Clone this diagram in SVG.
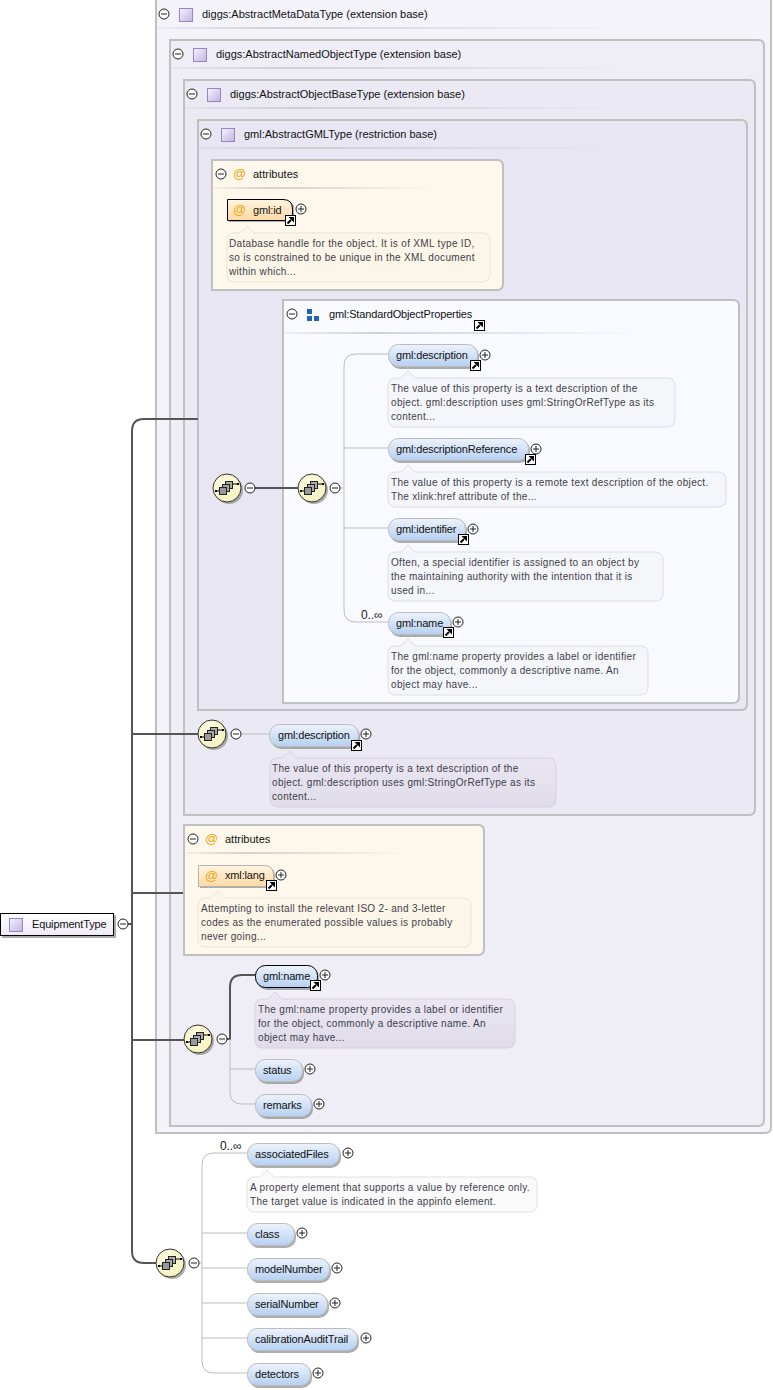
<svg xmlns="http://www.w3.org/2000/svg" width="773" height="1390" viewBox="0 0 773 1390">
<style>
text{font-family:"Liberation Sans",Arial,sans-serif;font-size:11px;fill:#111}
[id^=el-] text:not(.d),[id^=attr-] text:not(.d):not(.at),#group-sop text,#root-EquipmentType text{letter-spacing:-.15px}
text.d{font-size:10px;letter-spacing:.32px;fill:#3e3e4a}
text.o{font-size:12px;letter-spacing:.1px;fill:#222}
.fr{stroke:#c0c0c0;stroke-width:2}
.th{fill:none;stroke:#bdbdbd;stroke-width:1}
.dk{fill:none;stroke:#555;stroke-width:2}
.sh{fill:#8a8a8a;opacity:.7}
.el{fill:url(#gE);stroke:#bcbcbc;stroke-width:1}
.req{fill:url(#gE);stroke:#000;stroke-width:1}
text.at{font-size:13px;fill:#f5a30a}
.dS{fill:#f5f6f9;stroke:#dcdde2}
.dP{fill:url(#gD);stroke:#d5d2de}
.dA{fill:#fcf6e8;stroke:#e8e3d6}
.dW{fill:#fafafa;stroke:#e2e2e2}
</style>
<defs>
<linearGradient id="gE" x1="0" y1="0" x2="0" y2="1"><stop offset="0" stop-color="#edf3fc"/><stop offset="1" stop-color="#b6d0f1"/></linearGradient>
<linearGradient id="gD" x1="0" y1="0" x2="0" y2="1"><stop offset="0" stop-color="#ebe8f3"/><stop offset="1" stop-color="#e0dcea"/></linearGradient>
<linearGradient id="gA" x1="0" y1="0" x2="0" y2="1"><stop offset="0" stop-color="#fff5e2"/><stop offset="1" stop-color="#ffd9a3"/></linearGradient>
<linearGradient id="gT" x1="0" y1="0" x2="1" y2="1"><stop offset="0" stop-color="#f6f4fc"/><stop offset="1" stop-color="#bfb4de"/></linearGradient>
<linearGradient id="gR" x1="0" y1="0" x2="0" y2="1"><stop offset="0" stop-color="#ffffff"/><stop offset="1" stop-color="#eeeaf8"/></linearGradient>
<linearGradient id="gU" x1="0" y1="0" x2="1" y2="0"><stop offset="0" stop-color="#c8c8c8" stop-opacity=".2"/><stop offset=".25" stop-color="#c8c8c8" stop-opacity=".8"/><stop offset="1" stop-color="#c8c8c8" stop-opacity="0"/></linearGradient>
<radialGradient id="gS" cx=".4" cy=".35" r=".75"><stop offset="0" stop-color="#fffde6"/><stop offset="1" stop-color="#f5f0b8"/></radialGradient>
<symbol id="plus" overflow="visible"><circle r="5" fill="#fff" stroke="#222"/><path d="M-3 0H3M0-3V3" stroke="#222" fill="none"/></symbol>
<symbol id="minus" overflow="visible"><circle r="5" fill="#fff" stroke="#222"/><path d="M-3 0H3" stroke="#222" fill="none"/></symbol>
<symbol id="link" overflow="visible"><rect x=".5" y=".5" width="10" height="10" fill="#fff" stroke="#000"/><path d="M2.500 8.500L6 5" stroke="#000" stroke-width="2"/><path d="M3.500 2H9V7.500Z" fill="#000"/></symbol>
<symbol id="type" overflow="visible"><rect x=".5" y=".5" width="13" height="13" fill="url(#gT)" stroke="#9b82c6"/></symbol>
<symbol id="seq" overflow="visible">
<circle cx="2" cy="2" r="14" fill="#8a8a8a" opacity=".7"/>
<circle r="14" fill="url(#gS)" stroke="#333"/>
<path d="M-11 3H-7M6-4H11" stroke="#000"/>
<rect x="-1.500" y="-6.500" width="7" height="7" fill="#aaa" stroke="#222"/>
<rect x="-4.500" y="-3.500" width="7" height="7" fill="#aaa" stroke="#222"/>
<rect x="-7.500" y="-.5" width="7" height="7" fill="#999" stroke="#222"/>
<rect x="-12" y="2" width="2" height="2" fill="#000"/><rect x="10" y="-5" width="2" height="2" fill="#000"/>
</symbol>
</defs>
<rect width="773" height="1390" fill="#fff"/>

<g id="frame-metadata">
<path class="fr" fill="#f4f3fa" d="M156-4H771V1127Q771 1133 765 1133H156Z"/>
<rect x="157" y="27" width="470" height="2" fill="url(#gU)"/>
<use href="#minus" x="164" y="14"/><use href="#type" x="179" y="8"/>
<text x="202" y="18">diggs:AbstractMetaDataType (extension base)</text>
</g>
<g id="frame-named">
<path class="fr" fill="#efedf6" d="M170 40H758Q764 40 764 46V1120Q764 1126 758 1126H170Z"/>
<rect x="171" y="67" width="455" height="2" fill="url(#gU)"/>
<use href="#minus" x="178" y="54"/><use href="#type" x="193" y="48"/>
<text x="216" y="58">diggs:AbstractNamedObjectType (extension base)</text>
</g>
<g id="frame-base">
<path class="fr" fill="#ebe9f4" d="M184 80H749Q755 80 755 86V809Q755 815 749 815H184Z"/>
<rect x="185" y="107" width="440" height="2" fill="url(#gU)"/>
<use href="#minus" x="192" y="94"/><use href="#type" x="207" y="88"/>
<text x="230" y="98">diggs:AbstractObjectBaseType (extension base)</text>
</g>
<g id="frame-gml">
<path class="fr" fill="#e8e6f2" d="M198 120H741Q747 120 747 126V704Q747 710 741 710H198Z"/>
<rect x="199" y="147" width="410" height="2" fill="url(#gU)"/>
<use href="#minus" x="206" y="134"/><use href="#type" x="221" y="128"/>
<text x="244" y="138">gml:AbstractGMLType (restriction base)</text>
</g>
<g id="attributes-1">
<path class="fr" fill="#fef8ec" d="M212 160H497Q503 160 503 166V284Q503 290 497 290H212Z"/>
<rect x="214" y="187" width="225" height="2" fill="url(#gU)"/>
<use href="#minus" x="221" y="174"/><text class="at" x="233" y="178">@</text>
<text x="253" y="178">attributes</text>
</g>
<g id="attr-gml-id">
<path class="sh" d="M229 201H286Q294 201 294 209V222H229Z"/>
<path d="M227.500 199.500H283Q292.500 199.500 292.500 209V220.500H227.500Z" fill="url(#gA)" stroke="#000"/>
<text class="at" x="233" y="214">@</text><text x="253" y="214">gml:id</text>
<use href="#link" x="285" y="215"/><use href="#plus" x="301" y="209"/>
<path class="dA" d="M235 233H240L247 226L254 233H482Q490 233 490 241V274Q490 282 482 282H235Q227 282 227 274V241Q227 233 235 233Z"/>
<text class="d" x="229" y="247">Database handle for the object. It is of XML type ID,</text>
<text class="d" x="229" y="261">so is constrained to be unique in the XML document</text>
<text class="d" x="229" y="275">within which...</text>
</g>
<g id="group-sop">
<path class="fr" fill="#f9faff" d="M283 300H733Q739 300 739 306V697Q739 703 733 703H283Z"/>
<rect x="285" y="332" width="355" height="2" fill="url(#gU)"/>
<use href="#minus" x="292" y="314"/>
<path d="M307 309h5v5h-5zM307 316h5v5h-5zM314 316h5v5h-5z" fill="#1f66b8"/>
<text x="329" y="318">gml:StandardObjectProperties</text>
<use href="#link" x="474" y="320"/>
</g>

<g id="connectors">
<path class="dk" d="M198 419H144Q132 419 132 431V1251Q132 1263 144 1263H156"/>
<path class="dk" d="M132 734H198M132 893H184M132 1040H185M128 924H132"/>
<path class="dk" d="M255 488H298"/>
<path class="th" d="M388 354H356Q344 354 344 366V610Q344 622 356 622H388M344 448H388M344 528H388M340 488H344"/>
<path class="th" d="M241 734H269"/>
<path class="dk" d="M226 1039H230V987Q230 975 242 975H255"/>
<path class="th" d="M230 1039V1092Q230 1104 242 1104H255M230 1069H255"/>
<path class="th" d="M198 1263H202M202 1165Q202 1153 214 1153H247M202 1165V1361Q202 1373 214 1373H247M202 1233H247M202 1268H247M202 1303H247M202 1338H247"/>
</g>

<g id="seq-1"><use href="#seq" x="227" y="488"/><use href="#minus" x="250" y="488"/></g>
<g id="seq-2"><use href="#seq" x="312" y="488"/><use href="#minus" x="335" y="488"/></g>
<g id="seq-3"><use href="#seq" x="212" y="734"/><use href="#minus" x="236" y="734"/></g>
<g id="seq-4"><use href="#seq" x="198" y="1039"/><use href="#minus" x="222" y="1039"/></g>
<g id="seq-5"><use href="#seq" x="170" y="1263"/><use href="#minus" x="194" y="1263"/></g>

<g id="el-description-1">
<rect class="sh" x="390" y="346" width="89" height="23" rx="10"/><rect class="el" x="388.500" y="344.500" width="89" height="22" rx="10"/>
<text x="396" y="359">gml:description</text><use href="#link" x="470" y="360"/><use href="#plus" x="485" y="355"/>
<path class="dS" d="M396 378H401L408 371L415 378H667Q675 378 675 386V419Q675 427 667 427H396Q388 427 388 419V386Q388 378 396 378Z"/>
<text class="d" x="391" y="392">The value of this property is a text description of the</text>
<text class="d" x="391" y="406">object. gml:description uses gml:StringOrRefType as its</text>
<text class="d" x="391" y="420">content...</text>
</g>
<g id="el-descriptionReference">
<rect class="sh" x="390" y="440" width="140" height="23" rx="10"/><rect class="el" x="388.500" y="438.500" width="140" height="22" rx="10"/>
<text x="396" y="453">gml:descriptionReference</text><use href="#link" x="525" y="454"/><use href="#plus" x="536" y="449"/>
<path class="dS" d="M396 472H401L408 465L415 472H718Q726 472 726 480V499Q726 507 718 507H396Q388 507 388 499V480Q388 472 396 472Z"/>
<text class="d" x="391" y="486">The value of this property is a remote text description of the object.</text>
<text class="d" x="391" y="500">The xlink:href attribute of the...</text>
</g>
<g id="el-identifier">
<rect class="sh" x="390" y="520" width="77" height="23" rx="10"/><rect class="el" x="388.500" y="518.500" width="77" height="22" rx="10"/>
<text x="396" y="533">gml:identifier</text><use href="#link" x="458" y="534"/><use href="#plus" x="473" y="529"/>
<path class="dS" d="M396 552H401L408 545L415 552H655Q663 552 663 560V593Q663 601 655 601H396Q388 601 388 593V560Q388 552 396 552Z"/>
<text class="d" x="391" y="566">Often, a special identifier is assigned to an object by</text>
<text class="d" x="391" y="580">the maintaining authority with the intention that it is</text>
<text class="d" x="391" y="594">used in...</text>
</g>
<g id="el-name-1">
<text class="o" x="361" y="619">0..∞</text>
<rect class="sh" x="390" y="614" width="62" height="23" rx="10"/><rect class="el" x="388.500" y="612.500" width="62" height="22" rx="10"/>
<text x="396" y="627">gml:name</text><use href="#link" x="443" y="627"/><use href="#plus" x="458" y="622"/>
<path class="dS" d="M396 646H401L408 639L415 646H640Q648 646 648 654V687Q648 695 640 695H396Q388 695 388 687V654Q388 646 396 646Z"/>
<text class="d" x="391" y="660">The gml:name property provides a label or identifier</text>
<text class="d" x="391" y="674">for the object, commonly a descriptive name. An</text>
<text class="d" x="391" y="688">object may have...</text>
</g>
<g id="el-description-2">
<rect class="sh" x="271" y="726" width="89" height="23" rx="10"/><rect class="el" x="269.500" y="724.500" width="89" height="22" rx="10"/>
<text x="278" y="739">gml:description</text><use href="#link" x="351" y="740"/><use href="#plus" x="366" y="734"/>
<path class="dP" d="M278 758H283L290 751L297 758H548Q556 758 556 766V799Q556 807 548 807H278Q270 807 270 799V766Q270 758 278 758Z"/>
<text class="d" x="272" y="772">The value of this property is a text description of the</text>
<text class="d" x="272" y="786">object. gml:description uses gml:StringOrRefType as its</text>
<text class="d" x="272" y="800">content...</text>
</g>
<g id="attributes-2">
<path class="fr" fill="#fef8ec" d="M184 825H478Q484 825 484 831V949Q484 955 478 955H184Z"/>
<rect x="186" y="852" width="225" height="2" fill="url(#gU)"/>
<use href="#minus" x="193" y="839"/><text class="at" x="205" y="843">@</text>
<text x="225" y="843">attributes</text>
</g>
<g id="attr-xml-lang">
<path class="sh" d="M200 867H266Q275 867 275 876V888H200Z"/>
<path d="M198.500 865.500H264Q273.500 865.500 273.500 875V886.500H198.500Z" fill="url(#gA)" stroke="#b4b4b4"/>
<text class="at" x="205" y="880">@</text><text x="225" y="879">xml:lang</text>
<use href="#link" x="266" y="880"/><use href="#plus" x="281" y="875"/>
<path class="dA" d="M206 898H211L218 891L225 898H463Q471 898 471 906V939Q471 947 463 947H206Q198 947 198 939V906Q198 898 206 898Z"/>
<text class="d" x="201" y="912">Attempting to install the relevant ISO 2- and 3-letter</text>
<text class="d" x="201" y="926">codes as the enumerated possible values is probably</text>
<text class="d" x="201" y="940">never going...</text>
</g>
<g id="el-name-2">
<rect class="sh" x="257" y="967" width="62" height="23" rx="10"/><rect class="req" x="255.500" y="965.500" width="62" height="22" rx="10"/>
<text x="263" y="980">gml:name</text><use href="#link" x="310" y="980"/><use href="#plus" x="325" y="975"/>
<path class="dP" d="M263 999H268L275 992L282 999H507Q515 999 515 1007V1040Q515 1048 507 1048H263Q255 1048 255 1040V1007Q255 999 263 999Z"/>
<text class="d" x="258" y="1013">The gml:name property provides a label or identifier</text>
<text class="d" x="258" y="1027">for the object, commonly a descriptive name. An</text>
<text class="d" x="258" y="1041">object may have...</text>
</g>
<g id="el-status">
<rect class="sh" x="257" y="1061" width="47" height="23" rx="10"/><rect class="el" x="255.500" y="1059.500" width="47" height="22" rx="10"/>
<text x="263" y="1074">status</text><use href="#plus" x="310" y="1069"/>
</g>
<g id="el-remarks">
<rect class="sh" x="257" y="1096" width="56" height="23" rx="10"/><rect class="el" x="255.500" y="1094.500" width="56" height="22" rx="10"/>
<text x="263" y="1109">remarks</text><use href="#plus" x="319" y="1104"/>
</g>
<g id="el-associatedFiles">
<text class="o" x="220" y="1150">0..∞</text>
<rect class="sh" x="249" y="1145" width="92" height="23" rx="10"/><rect class="el" x="247.500" y="1143.500" width="92" height="22" rx="10"/>
<text x="255" y="1158">associatedFiles</text><use href="#plus" x="348" y="1153"/>
<path class="dW" d="M255 1177H260L267 1170L274 1177H529Q537 1177 537 1185V1204Q537 1212 529 1212H255Q247 1212 247 1204V1185Q247 1177 255 1177Z"/>
<text class="d" x="250" y="1191">A property element that supports a value by reference only.</text>
<text class="d" x="250" y="1205">The target value is indicated in the appinfo element.</text>
</g>
<g id="el-class">
<rect class="sh" x="249" y="1225" width="47" height="23" rx="10"/><rect class="el" x="247.500" y="1223.500" width="47" height="22" rx="10"/>
<text x="255" y="1238">class</text><use href="#plus" x="302" y="1233"/>
</g>
<g id="el-modelNumber">
<rect class="sh" x="249" y="1260" width="82" height="23" rx="10"/><rect class="el" x="247.500" y="1258.500" width="82" height="22" rx="10"/>
<text x="255" y="1273">modelNumber</text><use href="#plus" x="337" y="1268"/>
</g>
<g id="el-serialNumber">
<rect class="sh" x="249" y="1295" width="80" height="23" rx="10"/><rect class="el" x="247.500" y="1293.500" width="80" height="22" rx="10"/>
<text x="255" y="1308">serialNumber</text><use href="#plus" x="335" y="1303"/>
</g>
<g id="el-calibrationAuditTrail">
<rect class="sh" x="249" y="1330" width="110" height="23" rx="10"/><rect class="el" x="247.500" y="1328.500" width="110" height="22" rx="10"/>
<text x="255" y="1343">calibrationAuditTrail</text><use href="#plus" x="366" y="1338"/>
</g>
<g id="el-detectors">
<rect class="sh" x="249" y="1365" width="63" height="23" rx="10"/><rect class="el" x="247.500" y="1363.500" width="63" height="22" rx="10"/>
<text x="255" y="1378">detectors</text><use href="#plus" x="318" y="1373"/>
</g>
<g id="root-EquipmentType">
<rect class="sh" x="2" y="915" width="114" height="23"/>
<rect x=".5" y="913.500" width="113" height="22" fill="url(#gR)" stroke="#000"/>
<use href="#type" x="9" y="918"/>
<text x="32" y="928">EquipmentType</text>
<use href="#minus" x="123" y="924"/>
</g>
</svg>
